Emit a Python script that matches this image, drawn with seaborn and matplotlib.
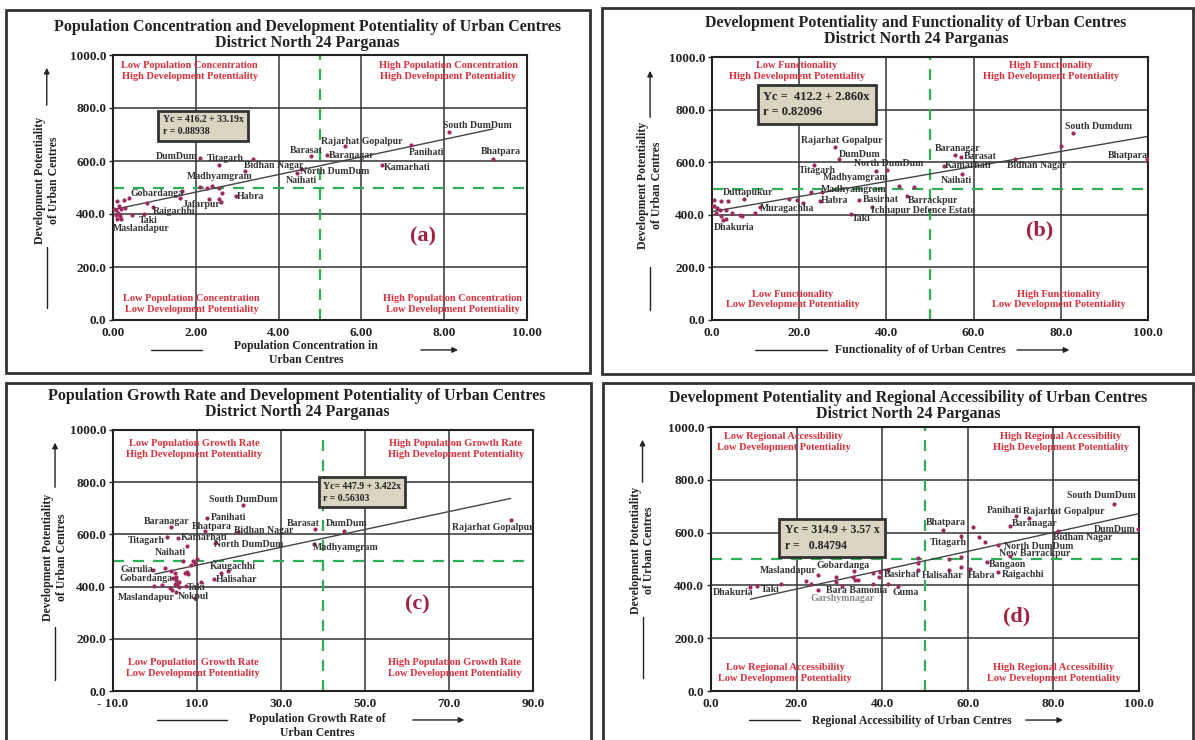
import matplotlib
matplotlib.use("Agg")
import matplotlib.pyplot as plt
import seaborn as sns
import pandas as pd
from matplotlib.patches import Rectangle

# ---- data: panel (a) population concentration vs development potentiality
a_x = [8.12, 9.17, 7.20, 6.49, 5.61, 5.18, 4.78, 4.55, 4.44, 3.37, 2.56, 2.09, 3.19, 2.97,
       1.66, 2.32, 0.96, 0.75, 0.17,
       2.09, 2.26, 2.40, 2.55, 2.63, 2.57, 2.60, 1.61, 0.83, 0.45, 0.10, 0.26, 0.38,
       0.14, 0.20, 0.29, 0.07, 0.12, 0.10, 0.20, 0.03, 0.07]
a_y = [709, 609, 659, 584, 655, 623, 619, 568, 554, 609, 586, 613, 563, 469,
       486, 455, 427, 401, 392,
       501, 499, 505, 499, 480, 455, 446, 461, 442, 395, 449, 452, 459,
       430, 420, 424, 415, 405, 380, 380, 417, 398]
a_names = ["South DumDum", "Bhatpara", "Panihati", "Kamarhati", "Rajarhat Gopalpur",
           "Baranagar", "Barasat", "North DumDum", "Naihati", "Bidhan Nagar", "Titagarh",
           "DumDum", "Madhyamgram", "Habra", "Gobardanga", "Jafarpur", "Raigachhi", "Taki",
           "Maslandapur"] + [""] * 22
a_eq = "Yc = 416.2 + 33.19x\nr = 0.88938"
a_coef = (416.2, 33.19)

# ---- data: panel (b) functionality vs development potentiality
b_x = [82.8, 99.7, 69.4, 55.8, 57.1, 53.1, 57.4, 28.1, 29.1, 23.5, 40.1, 37.5, 25.3,
       24.7, 33.8, 44.7, 36.7, 31.9, 10.9, 7.3, 2.6,
       80.1, 43.0, 46.3, 22.8, 17.7, 19.4, 20.9, 9.8, 6.5, 6.9, 4.5, 0.35, 2.0, 3.6,
       0.5, 1.2, 1.8, 3.2, 2.1, 3.2, 1.0, 0.1]
b_y = [712, 611, 611, 626, 620, 586, 554, 658, 614, 588, 569, 566, 485,
       452, 458, 471, 429, 404, 430, 461, 381,
       663, 508, 504, 487, 461, 457, 444, 408, 401, 396, 408, 457, 451, 451,
       432, 425, 419, 417, 394, 385, 407, 434]
b_names = ["South Dumdum", "Bhatpara", "Bidhan Nagar", "Baranagar", "Barasat", "Kamarhati",
           "Naihati", "Rajarhat Gopalpur", "DumDum", "Titagarh", "North DumDum",
           "Madhyamgram", "Madhyamgram ", "Habra", "Basirhat", "Barrackpur",
           "Ichhapur Defence Estate", "Taki", "Muragachha", "Duttapukur", "Dhakuria"] + [""] * 22
b_eq = "Yc =  412.2 + 2.860x\nr = 0.82096"
b_coef = (412.2, 2.860)

# ---- data: panel (c) population growth rate vs development potentiality
c_x = [20.9, 12.4, 3.7, 11.8, 19.7, 38.2, 45.0, 84.7, 37.9, 14.2, 2.75, 5.5, 7.5,
       17.3, 14.0, -0.5, 4.4, 7.3, 5.1, -0.2,
       15.8, 1.6, 3.6, 4.1, 2.4, 3.8, 4.8, 5.0, 5.1, 5.3, 5.6, 5.8, 4.7, 7.1, 7.6, 7.9,
       8.5, 9.6, 9.9, 9.0, 11.0, 9.6, 6.7]
c_y = [711, 664, 627, 613, 610, 619, 614, 656, 564, 568, 590, 586, 554,
       459, 428, 462, 434, 401, 378, 401,
       452, 406, 396, 386, 471, 460, 452, 437, 424, 411, 399, 418, 409, 452, 456, 447,
       481, 490, 507, 500, 418, 357, 500]
c_names = ["South DumDum", "Panihati", "Baranagar", "Bhatpara", "Bidhan Nagar", "Barasat",
           "DumDum", "Rajarhat Gopalpur", "Madhyamgram", "North DumDum", "Titagarh",
           "Kamarhati", "Naihati", "Kaugachhi", "Halisahar", "Garulia", "Gobardanga", "Taki",
           "Nokpul", "Maslandapur"] + [""] * 23
c_eq = "Yc= 447.9 + 3.422x\nr = 0.56303"
c_coef = (447.9, 3.422)

# ---- data: panel (d) regional accessibility vs development potentiality
d_x = [94.2, 99.7, 81.1, 71.3, 74.2, 69.9, 67.1, 69.8, 64.4, 67.1, 60.6, 55.6, 54.3,
       58.4, 41.4, 33.5, 25.0, 43.6, 30.7, 25.0, 10.7, 9.2,
       61.3, 62.6, 64.1, 58.4, 58.4, 55.6, 48.4, 48.4, 48.4, 22.1, 23.3, 29.2, 29.2,
       33.1, 33.7, 34.3, 37.8, 39.4, 39.2, 37.8, 41.4, 16.4]
d_y = [710, 612, 607, 662, 657, 625, 552, 511, 489, 449, 462, 460, 610,
       588, 459, 456, 441, 396, 398, 381, 397, 395,
       620, 584, 565, 508, 470, 499, 504, 486, 458, 416, 405, 430, 414,
       430, 422, 419, 448, 451, 430, 407, 404, 405]
d_names = ["South DumDum", "DumDum", "Bidhan Nagar", "Panihati", "Rajarhat Gopalpur",
           "Baranagar", "North DumDum", "New Barrackpur", "Bangaon", "Raigachhi", "Habra",
           "Halisahar", "Bhatpara", "Titagarh", "Basirhat", "Gobardanga", "Maslandapur",
           "Guma", "Bara Bamonia", "Garshymnagar", "Taki", "Dhakuria"] + [""] * 22
d_eq = "Yc = 314.9 + 3.57 x\nr =   0.84794"
d_coef = (314.9, 3.57)

# label offsets in pixels (dx, dy) from the point
a_off = {"South DumDum": (28, 7), "Bhatpara": (8, 7), "Panihati": (15, -7), "Kamarhati": (25, -2),
         "Rajarhat Gopalpur": (16, 5), "Baranagar": (24, -1), "Barasat": (-5, 5),
         "North DumDum": (33, -2), "Naihati": (5, -7), "Bidhan Nagar": (21, -7),
         "Titagarh": (6, 6), "DumDum": (-23, 1), "Madhyamgram": (-25, -6), "Habra": (15, -1),
         "Gobardanga": (-25, -2), "Jafarpur": (-8, -5), "Raigachhi": (21, -5), "Taki": (4, -7),
         "Maslandapur": (21, -12)}
b_off = {"South Dumdum": (25, 6), "Bhatpara": (-19, 4), "Bidhan Nagar": (22, -6),
         "Baranagar": (2, 7), "Barasat": (19, 0), "Kamarhati": (25, 0), "Naihati": (-6, -6),
         "Rajarhat Gopalpur": (7, 6), "DumDum": (21, 4), "Titagarh": (3, -5),
         "North DumDum": (2, 7), "Madhyamgram": (-20, -6), "Madhyamgram ": (31, 3),
         "Habra": (15, 1), "Basirhat": (21, 0), "Barrackpur": (26, -4),
         "Ichhapur Defence Estate": (51, -3), "Taki": (10, -5), "Muragachha": (27, -2),
         "Duttapukur": (4, 6), "Dhakuria": (11, -8)}
c_off = {"South DumDum": (1, 6), "Panihati": (21, 0), "Baranagar": (-4, 6), "Bhatpara": (7, 5),
         "Bidhan Nagar": (26, 1), "Barasat": (-12, 6), "DumDum": (3, 7),
         "Rajarhat Gopalpur": (-18, -8), "Madhyamgram": (32, -4), "North DumDum": (34, -2),
         "Titagarh": (-20, -3), "Kamarhati": (26, 1), "Naihati": (-16, -6),
         "Kaugachhi": (5, 5), "Halisahar": (23, 0), "Garulia": (-16, 1),
         "Gobardanga": (-27, -1), "Taki": (11, -1), "Nokpul": (17, -4), "Maslandapur": (-8, -11)}
d_off = {"South DumDum": (-13, 8), "DumDum": (-23, 0), "Bidhan Nagar": (25, -7),
         "Panihati": (-12, 6), "Rajarhat Gopalpur": (35, 6), "Baranagar": (24, 2),
         "North DumDum": (40, -1), "New Barrackpur": (25, 3), "Bangaon": (21, -3),
         "Raigachhi": (25, -2), "Habra": (11, -6), "Halisahar": (-6, -6), "Bhatpara": (2, 7),
         "Titagarh": (-13, -7), "Basirhat": (14, -5), "Gobardanga": (-11, 5),
         "Maslandapur": (-30, 4), "Guma": (8, -6), "Bara Bamonia": (14, -5),
         "Garshymnagar": (25, -8), "Taki": (13, -3), "Dhakuria": (-17, -6)}

sns.set_theme(style="white")
plt.rcParams['font.family'] = ['Liberation Serif', 'DejaVu Serif']
plt.rcParams['font.weight'] = 'bold'

PT = "#9C2A5E"
RED = "#D9303C"
GREEN = "#2EAF55"
TXT = "#333333"

fig = plt.figure(figsize=(11.95, 7.4), dpi=100)

# panel frames (figure pixels: x0, y0_top, x1, y1_bottom)
W, H = 1195.0, 740.0
for x0, t, x1, b in [(6, 10, 590, 373), (602, 8, 1193, 374), (6, 383, 591, 742), (603, 383, 1193, 742)]:
    fig.add_artist(Rectangle((x0 / W, 1 - b / H), (x1 - x0) / W, (b - t) / H, fill=False,
                             ec="#333333", lw=2, transform=fig.transFigure))

panels = [
    dict(rect=[113, 55, 527, 320], x=a_x, y=a_y, names=a_names, off=a_off, eq=a_eq, coef=a_coef,
         xlim=(0, 10), xticks=[0, 2, 4, 6, 8, 10], xfmt="{:.2f}", vx=5,
         title="Population Concentration and Development Potentiality of Urban Centres",
         quad=["Low Population Concentration\nHigh Development Potentiality",
               "High Population Concentration\nHigh Development Potentiality",
               "Low Population Concentration\nLow Development Potentiality",
               "High Population Concentration\nLow Development Potentiality"],
         qpos=[(0.185, 0.94), (0.81, 0.94), (0.19, 0.06), (0.82, 0.06)],
         letter="(a)", lpos=(0.748, 0.317), eqpos=(0.12, 0.733), eqfs=7,
         xlabel="Population Concentration in\nUrban Centres", xlpos=(0.466, -0.125),
         xarr=((0.092, 0.215), (0.737, 0.84), -0.113), tpos=(0.469, 1.106, 1.045),
         yarr=(-0.16, 0.962, 0.80, 0.275, 0.045, 0.528)),
    dict(rect=[712, 57, 1148, 320], x=b_x, y=b_y, names=b_names, off=b_off, eq=b_eq, coef=b_coef,
         xlim=(0, 100), xticks=[0, 20, 40, 60, 80, 100], xfmt="{:.1f}", vx=50,
         title="Development Potentiality and Functionality of Urban Centres",
         quad=["Low Functionality\nHigh Development Potentiality",
               "High Functionality\nHigh Development Potentiality",
               "Low Functionality\nLow Development Potentiality",
               "High Functionality\nLow Development Potentiality"],
         qpos=[(0.194, 0.946), (0.777, 0.946), (0.186, 0.078), (0.795, 0.078)],
         letter="(b)", lpos=(0.751, 0.34), eqpos=(0.118, 0.82), eqfs=9,
         xlabel="Functionality of of Urban Centres", xlpos=(0.477, -0.114),
         xarr=((0.099, 0.264), (0.693, 0.826), -0.114), tpos=(0.468, 1.129, 1.068),
         yarr=(-0.142, 0.958, 0.76, 0.2, 0.038, 0.513)),
    dict(rect=[113, 430, 533, 691], x=c_x, y=c_y, names=c_names, off=c_off, eq=c_eq, coef=c_coef,
         xlim=(-10, 90), xticks=[-10, 10, 30, 50, 70, 90], xfmt="{:.1f}", vx=40,
         title="Population Growth Rate and Development Potentiality of Urban Centres",
         quad=["Low Population Growth Rate\nHigh Development Potentiality",
               "High Population Growth Rate\nHigh Development Potentiality",
               "Low Population Growth Rate\nLow Development Potentiality",
               "High Population Growth Rate\nLow Development Potentiality"],
         qpos=[(0.194, 0.927), (0.816, 0.927), (0.191, 0.087), (0.813, 0.087)],
         letter="(c)", lpos=(0.724, 0.332), eqpos=(0.50, 0.762), eqfs=7,
         xlabel="Population Growth Rate of\nUrban Centres", xlpos=(0.486, -0.134),
         xarr=((0.105, 0.271), (0.707, 0.843), -0.111), tpos=(0.438, 1.13, 1.069),
         yarr=(-0.138, 0.962, 0.77, 0.245, 0.042, 0.513)),
    dict(rect=[711, 427, 1139, 691], x=d_x, y=d_y, names=d_names, off=d_off, eq=d_eq, coef=d_coef,
         xlim=(0, 100), xticks=[0, 20, 40, 60, 80, 100], xfmt="{:.1f}", vx=50,
         title="Development Potentiality and Regional Accessibility of Urban Centres",
         quad=["Low Regional Accessibility\nLow Development Potentiality",
               "High Regional Accessibility\nHigh Development Potentiality",
               "Low Regional Accessibility\nLow Development Potentiality",
               "High Regional Accessibility\nLow Development Potentiality"],
         qpos=[(0.17, 0.943), (0.817, 0.943), (0.173, 0.067), (0.80, 0.067)],
         letter="(d)", lpos=(0.713, 0.281), eqpos=(0.172, 0.58), eqfs=8.5,
         xlabel="Regional Accessibility of Urban Centres", xlpos=(0.47, -0.112),
         xarr=((0.089, 0.208), (0.729, 0.829), -0.11), tpos=(0.46, 1.11, 1.05),
         yarr=(-0.16, 0.962, 0.78, 0.28, 0.05, 0.534)),
]

for p in panels:
    l, t, r, b = p["rect"]
    ax = fig.add_axes([l / W, 1 - b / H, (r - l) / W, (b - t) / H])
    df = pd.DataFrame({"x": p["x"], "y": p["y"], "name": p["names"]})

    # regression line from the printed equation
    a0, a1 = p["coef"]
    xs = [min(p["x"]), max(p["x"])]
    if xs[0] < 0:
        xs[0] = 0
    sns.lineplot(x=xs, y=[a0 + a1 * v for v in xs], ax=ax, color="#444444", lw=1, zorder=3)
    sns.scatterplot(data=df, x="x", y="y", ax=ax, color=PT, s=9, edgecolor=PT, linewidth=0, zorder=4)

    for _, row in df[df["name"] != ""].iterrows():
        dx, dy = p["off"][row["name"]]
        col = "#888888" if row["name"] == "Garshymnagar" else TXT
        ax.annotate(row["name"].strip(), (row["x"], row["y"]), xytext=(dx, dy),
                    textcoords="offset pixels", ha="center", va="center",
                    fontsize=7, color=col, fontweight="bold", zorder=5)

    ax.axvline(p["vx"], color=GREEN, ls=(0, (5, 4)), lw=1.6, zorder=2)
    ax.axhline(500, color=GREEN, ls=(0, (5, 4)), lw=1.6, zorder=2)

    ax.set_xlim(*p["xlim"])
    ax.set_ylim(0, 1000)
    ax.set_xticks(p["xticks"])
    xl = [p["xfmt"].format(v) for v in p["xticks"]]
    xl = [s.replace("-", "- ") for s in xl]
    ax.set_xticklabels(xl)
    ax.set_yticks([0, 200, 400, 600, 800, 1000])
    ax.set_yticklabels(["{:.1f}".format(v) for v in [0, 200, 400, 600, 800, 1000]])
    ax.tick_params(labelsize=9.5, colors="#222222", length=3, width=1, left=True, bottom=False, pad=2)
    for lab in ax.get_xticklabels() + ax.get_yticklabels():
        lab.set_fontweight("bold")
    ax.grid(True, color="#333333", lw=1.1)
    ax.set_axisbelow(True)
    for s in ax.spines.values():
        s.set_color("#222222")
        s.set_linewidth(1.5)
    ax.set_xlabel("")
    ax.set_ylabel("")

    for txt, (qx, qy) in zip(p["quad"], p["qpos"]):
        ax.text(qx, qy, txt, transform=ax.transAxes, ha="center", va="center",
                color=RED, fontsize=7.5, fontweight="bold", linespacing=1.25, zorder=5)

    ax.text(*p["lpos"], p["letter"], transform=ax.transAxes, ha="center", va="center",
            color="#A3203F", fontsize=16, fontweight="bold", zorder=5)

    ax.text(*p["eqpos"], p["eq"], transform=ax.transAxes, ha="left", va="center",
            fontsize=p["eqfs"], color="#222222", fontweight="bold", zorder=6, linespacing=1.4,
            bbox=dict(boxstyle="square,pad=0.45", fc="#D9D5C2", ec="#333333", lw=2))

    tx, ty1, ty2 = p["tpos"]
    ax.text(tx, ty1, p["title"], transform=ax.transAxes, ha="center", va="center",
            fontsize=11.5, fontweight="bold", color="#222222")
    ax.text(tx, ty2, "District North 24 Parganas", transform=ax.transAxes, ha="center",
            va="center", fontsize=11.5, fontweight="bold", color="#222222")

    # x axis label with arrow
    ax.text(*p["xlpos"], p["xlabel"], transform=ax.transAxes, ha="center", va="center",
            fontsize=8.5, fontweight="bold", color="#222222", linespacing=1.2)
    (lx0, lx1), (rx0, rx1), ay = p["xarr"]
    ax.plot([lx0, lx1], [ay, ay], transform=ax.transAxes, color="#222222", lw=1, clip_on=False)
    ax.annotate("", xy=(rx1, ay), xytext=(rx0, ay), xycoords="axes fraction",
                arrowprops=dict(arrowstyle="-|>", color="#222222", lw=1, mutation_scale=8))

    # y axis label with arrow
    yx, u1, u0, d1, d0, yc = p["yarr"]
    ax.annotate("", xy=(yx, u1), xytext=(yx, u0), xycoords="axes fraction",
                arrowprops=dict(arrowstyle="-|>", color="#222222", lw=1, mutation_scale=8))
    ax.plot([yx, yx], [d0, d1], transform=ax.transAxes, color="#222222", lw=1, clip_on=False)
    ax.text(yx, yc, "Development Potentiality\nof Urban Centres", transform=ax.transAxes,
            rotation=90, ha="center", va="center", fontsize=8.5, fontweight="bold",
            color="#222222", linespacing=1.2)

fig.savefig("out.png", dpi=100, facecolor="white")
